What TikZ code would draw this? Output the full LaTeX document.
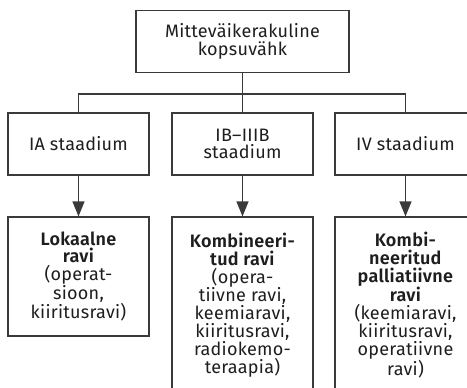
\documentclass[tikz,border=0pt]{standalone}
\usepackage{fontspec}
\setmainfont{Fira Sans}[BoldFont={Fira Sans SemiBold}, LetterSpace=1.5]
\usetikzlibrary{arrows.meta}
\definecolor{linec}{HTML}{3A3A3A}
\definecolor{textc}{HTML}{1E1E1E}
\begin{document}
\begin{tikzpicture}[x=1pt,y=-1pt,
  box/.style={draw=linec, line width=1.2pt, fill=white, inner sep=0pt, align=center, text=textc,
    font=\fontsize{18}{17.8}\selectfont},
  conn/.style={draw=linec, line width=1.2pt},
  arr/.style={conn, -{Triangle[length=15pt,width=12pt]}}]
\useasboundingbox (0,0) rectangle (467,388);
\clip (0,0) rectangle (467,388);
\node[box, minimum width=213pt, minimum height=62pt] (top) at (242.5,41.7) {Mitteväikerakuline\\kopsuvähk};
\node[box, minimum width=141pt, minimum height=62pt] (s1) at (78.5,144) {IA staadium};
\node[box, minimum width=141pt, minimum height=62pt] (s2) at (242.5,144) {IB–IIIB\\staadium};
\node[box, minimum width=141pt, minimum height=62pt] (s3) at (405.5,144) {IV staadium};
\node[box, minimum width=141pt, minimum height=119pt] (b1) at (78.5,276.5)
  {\textbf{Lokaalne}\\\textbf{ravi}\\(operat-\\sioon,\\kiiritusravi)};
\node[box, minimum width=141pt, minimum height=176pt] (b2) at (242.5,305)
  {\textbf{Kombineeri-}\\\textbf{tud ravi}\\(opera-\\tiivne ravi,\\keemiaravi,\\kiiritusravi,\\radiokemo-\\teraapia)};
\node[box, minimum width=141pt, minimum height=176pt] (b3) at (405.5,305)
  {\textbf{Kombi-}\\\textbf{neeritud}\\\textbf{palliatiivne}\\\textbf{ravi}\\(keemiaravi,\\kiiritusravi,\\operatiivne\\ravi)};
\coordinate (j) at (242.5,94);
\draw[conn] (top.south) -- (s2.north);
\draw[conn] (s1.north) -- (s1.north |- j) -- (s3.north |- j) -- (s3.north);
\draw[arr] (s1.south) -- (b1.north);
\draw[arr] (s2.south) -- (b2.north);
\draw[arr] (s3.south) -- (b3.north);
\end{tikzpicture}
\end{document}
